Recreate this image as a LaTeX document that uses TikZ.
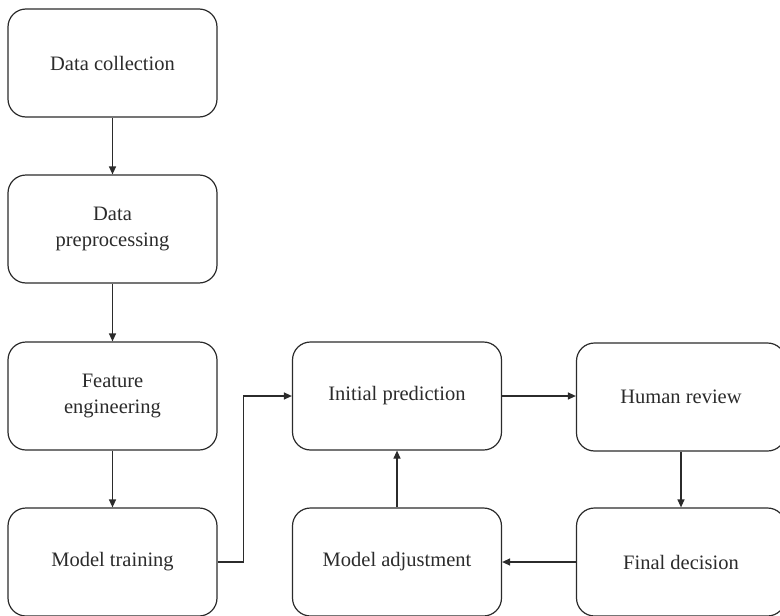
\documentclass[tikz,border=0pt]{standalone}
\usepackage{fontspec}
\setmainfont{Liberation Serif}
\usetikzlibrary{arrows.meta}
\definecolor{ink}{HTML}{2B2B2B}
\tikzset{
  stage/.style={draw=ink, line width=1.2pt, rectangle, rounded corners=18pt,
    minimum width=209pt, minimum height=108pt, align=center, text=ink,
    font=\fontsize{20.5}{25.5}\selectfont, inner sep=2pt},
  flow/.style={draw=ink, line width=1.2pt, -{Triangle[length=8pt,width=7pt]}}
}
\begin{document}
\begin{tikzpicture}[x=1pt,y=1pt]
  \useasboundingbox (0,0) rectangle (780,-616);
  % left column
  \node[stage] (dc) at (112.5,-63)  {Data collection};
  \node[stage] (dp) at (112.5,-229) {Data\\preprocessing};
  \node[stage] (fe) at (112.5,-396) {Feature\\engineering};
  \node[stage] (mt) at (112.5,-562) {Model training};
  % middle column
  \node[stage] (ip) at (397,-396) {Initial prediction};
  \node[stage] (ma) at (397,-562) {Model adjustment};
  % right column
  \node[stage] (hr) at (681,-397) {Human review};
  \node[stage] (fd) at (681,-562) {Final decision};
  % connectors
  \draw[flow] (dc) -- (dp);
  \draw[flow] (dp) -- (fe);
  \draw[flow] (fe) -- (mt);
  \draw[flow, rounded corners=0pt] (mt.east) -- ++(26,0) |- (ip.west);
  \draw[flow] (ip.east) -- (ip.east -| hr.west);
  \draw[flow] (hr) -- (fd);
  \draw[flow] (fd) -- (ma);
  \draw[flow] (ma) -- (ip);
\end{tikzpicture}
\end{document}
